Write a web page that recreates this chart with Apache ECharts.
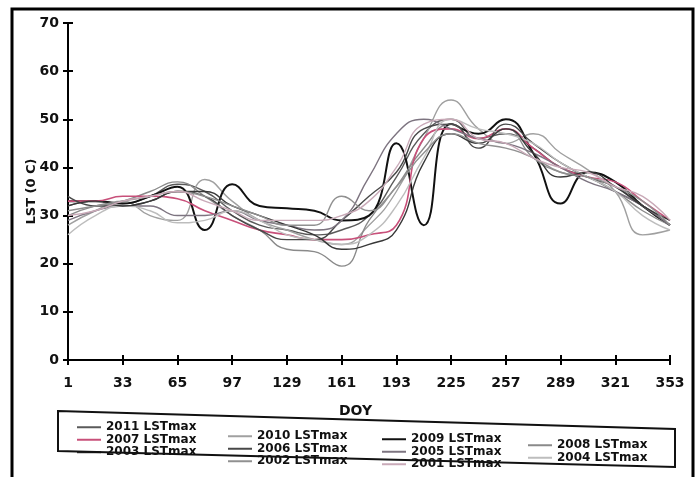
<!DOCTYPE html>
<html><head><meta charset="utf-8">
<script src="https://cdn.jsdelivr.net/npm/echarts@6/dist/echarts.min.js"></script>
<style>html,body{margin:0;padding:0;background:#fff}#c{width:699px;height:477px}</style>
</head><body><div id="c"></div>
<script>
const doy = ['1','17','33','49','65','81','97','113','129','145','161','177','193','209','225','241','257','273','289','305','321','337','353'];
const yTicks = [0,10,20,30,40,50,60,70];
const names = ['2011 LSTmax','2010 LSTmax','2009 LSTmax','2008 LSTmax','2007 LSTmax','2006 LSTmax','2005 LSTmax','2004 LSTmax','2003 LSTmax','2002 LSTmax','2001 LSTmax'];
const lst2011 = [32,33,32.5,34,36.5,35,31,28,27,26,27,30,38,47,50,46,47,44,40,38,35,32,28];
const lst2010 = [28,31,33,30,29,37.5,33,29,27,25,24,28,35,46,54,48,45,47,43,39.5,35,26,27];
const lst2009 = [33,33,32.5,34,36,27,36.5,32,31.5,31,29,30,45,28,49,47,50,43,32.5,39,37,32,28];
const lst2008 = [30,32,33,35,37,34,30,27,23,22.5,19.5,29,36,44,49,45,48,42,39,38,35,31,28];
const lst2007 = [33,33,34,34,33.5,31,29,27,26,25,25,26,28,46,48,46,48,44,40,38,37,33,29];
const lst2006 = [34,32,32,33,35,34,30,27,25,25,29,34,39,48,49,44,49,45,41,38,36,32,28];
const lst2005 = [29,31,32,32,30,30,31,29,28,27,29,38,47,50,48,46,45,43,40,37,35,32,28];
const lst2004 = [26,30,32,31,28.5,29,31,29,26,25,24,26,32,42,50,48,47,45,41,38,35,30,27];
const lst2003 = [32,33,32,33,35,35,32,30,28,26,23,24,27,41,47,45,48,43,38,39,36,32,29];
const lst2002 = [31,32,33,34,35,34,32,30,28,28,34,31,36,43,47,45,44,42,39,38,36,33,28];
const lst2001 = [30,31,33,34,35,33,31,29,29,29,30,33,40,49,50,46,45,42,40,39,36,34,29];

const seriesData = [lst2011,lst2010,lst2009,lst2008,lst2007,lst2006,lst2005,lst2004,lst2003,lst2002,lst2001];
const colors = ['#5a5a5a','#a0a0a0','#111111','#8a8a8a','#c8507a','#484848','#7d7480','#bdbdbd','#383838','#909090','#c9aab8'];
const widths = [1.4,1.4,2,1.4,1.6,1.4,1.4,1.4,1.4,1.4,1.4];

const font = 'DejaVu Sans, Liberation Sans, sans-serif';
const chart = echarts.init(document.getElementById('c'));

const legendCols = [
  {data:[names[0],names[4],names[8]], left:72, top:416},
  {data:[names[1],names[5],names[9]], left:223, top:425},
  {data:[names[2],names[6],names[10]], left:377, top:428},
  {data:[names[3],names[7]], left:523, top:434}
];

chart.setOption({
  animation:false,
  backgroundColor:'#fff',
  color:colors,
  grid:{left:68,right:29,top:23,bottom:117},
  xAxis:[{
    type:'category', data:doy, boundaryGap:false,
    axisLine:{lineStyle:{color:'#000',width:2}},
    axisTick:{interval:1,length:5,lineStyle:{color:'#000',width:2}},
    axisLabel:{interval:1,margin:16,color:'#111',fontSize:14,fontWeight:'bold',fontFamily:font},
    splitLine:{show:false}
  },{
    type:'category', data:doy, boundaryGap:false, position:'bottom',
    axisLine:{show:false},
    axisTick:{inside:true,interval:1,length:5,lineStyle:{color:'#000',width:2}},
    axisLabel:{show:false}, splitLine:{show:false}
  }],
  yAxis:[{
    type:'value', min:0, max:70, interval:10,
    name:'LST (0 C)', nameLocation:'middle', nameGap:30, nameMoveOverlap:false,
    nameTextStyle:{color:'#111',fontSize:13,fontWeight:'bold',fontFamily:font},
    axisLine:{show:true,lineStyle:{color:'#000',width:2}},
    axisTick:{show:true,length:5,lineStyle:{color:'#000',width:2}},
    axisLabel:{margin:9,color:'#111',fontSize:14,fontWeight:'bold',fontFamily:font},
    splitLine:{show:false}
  },{
    type:'value', min:0, max:70, interval:10, position:'left',
    axisLine:{show:false},
    axisTick:{show:true,inside:true,length:5,lineStyle:{color:'#000',width:2}},
    axisLabel:{show:false}, splitLine:{show:false}
  }],
  legend: legendCols.map(c=>({
    data:c.data, left:c.left, top:c.top, orient:'vertical',
    icon:'rect', itemWidth:24, itemHeight:2, itemGap:0,
    textStyle:{color:'#111',fontSize:12,fontWeight:'bold',fontFamily:font,lineHeight:12.5}
  })),
  graphic:[
    {type:'rect',shape:{x:12,y:9,width:681,height:480},style:{fill:'none',stroke:'#000',lineWidth:3},z:100},
    {type:'polygon',shape:{points:[[58,411],[675,429],[675,467],[58,451]]},style:{fill:'none',stroke:'#111',lineWidth:2},z:100},
    {type:'text',left:339,top:404,style:{text:'DOY',fill:'#111',font:'bold 14px DejaVu Sans, sans-serif'},z:100}
  ],
  series: seriesData.map((d,i)=>({
    name:names[i], type:'line', data:d, smooth:true, symbol:'none',
    lineStyle:{color:colors[i],width:widths[i]}, itemStyle:{color:colors[i]}
  }))
});
</script></body></html>
